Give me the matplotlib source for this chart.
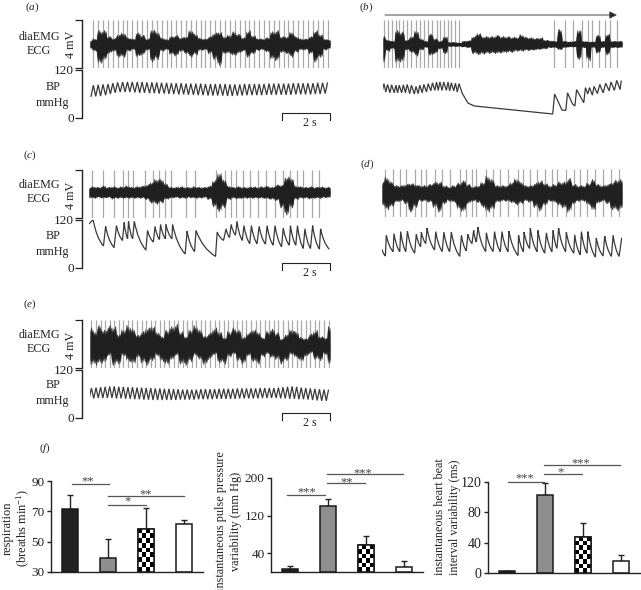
import numpy as np
import matplotlib
matplotlib.use("Agg")
import matplotlib.pyplot as plt
from matplotlib.path import Path
from matplotlib.patches import PathPatch

plt.rcParams['font.family'] = ['Liberation Serif', 'DejaVu Serif']
plt.rcParams['mathtext.fontset'] = 'custom'
plt.rcParams['mathtext.rm'] = 'Liberation Serif'
plt.rcParams['mathtext.it'] = 'Liberation Serif:italic'
plt.rcParams['mathtext.default'] = 'regular'

# ---------- trace data ----------
# EMG envelopes in mV (samples across the 10 s record)
a_top = [.35,.5,1.2,1.2,.7,.55,.9,1.0,.6,.5,1.0,.8,.5,1.3,1.1,.6,.45,.7,.8,.6,.7,1.25,.9,.55,.5,.7,1.0,1.1,.7,.8,1.1,.9,.6,1.2,.8,.55,.5,.6,1.1,1.2,.7,.7,1.1,.7,.5,.5,.7,1.2,.9,.5,.4]
a_bot = [.35,.6,1.7,1.4,.8,.6,1.1,1.1,.6,.5,1.1,.9,.5,1.5,1.3,.6,.5,.9,1.0,.6,.8,1.1,.9,.55,.5,.8,1.3,1.8,.8,.8,1.0,.8,.6,1.1,.8,.55,.5,.7,1.3,1.4,.7,.8,1.1,.7,.5,.5,.8,1.5,1.1,.5,.4]
b_top = [.8,.4,.3,1.2,1.1,.4,.7,1.2,.5,.3,.9,.5,.3,.7,.2,.2,.15,.3,.35,.7,1.0,.7,.7,.7,.8,.7,.7,.65,.65,.85,.65,.6,.55,.6,.4,.35,.3,1.3,.3,.25,.3,1.3,.3,.25,.25,.8,.3,.9,.3,.3,.3]
b_bot = [1.5,.6,.4,1.6,1.5,.5,.7,1.0,.5,.3,1.0,.8,.4,.8,.2,.2,.2,.25,.3,.8,.9,.85,.8,.8,.8,.75,.7,.7,.6,.6,.55,.55,.5,.45,.4,.3,.3,.5,.3,.25,.25,1.3,.3,1.4,.3,.8,.3,.9,.3,.3,.3]
c_top = [.5,.55,.5,.6,.5,.55,.5,.55,.6,.5,.55,.6,.7,.95,1.2,1.2,.8,.5,.5,.55,.5,.5,.55,.5,.5,.6,1.1,1.75,1.2,.6,.5,.55,.5,.5,.55,.5,.55,.6,.5,.7,.7,1.4,1.3,.6,.55,.5,.55,.5,.55,.5,.5]
c_bot = [.45,.5,.45,.5,.45,.55,.5,.5,.5,.5,.5,.5,.6,.9,1.0,.9,.6,.5,.45,.5,.5,.45,.5,.5,.45,.6,1.2,1.6,1.3,.6,.5,.55,.5,.5,.5,.5,.5,.55,.6,.7,1.3,1.9,1.3,.6,.5,.5,.55,.5,.5,.45,.45]
d_top = [1.1,1.4,1.0,.7,.7,.8,.9,.8,.7,.7,.8,1.0,1.0,.7,.6,.7,.9,1.1,.8,.6,.7,1.0,1.5,1.2,.7,.7,.7,1.0,1.3,1.0,.7,.7,.9,1.1,.9,.7,.8,1.0,1.0,1.3,.8,.7,.7,.9,1.2,.8,.7,.8,1.0,1.2,1.2]
d_bot = [1.0,1.4,1.2,.8,.7,.9,1.6,1.2,.7,.7,.8,1.2,1.6,.9,.7,.8,1.4,1.6,.9,.7,.8,1.2,1.6,1.4,.8,.7,.7,.8,1.0,.9,.7,.8,1.2,1.5,1.0,.7,.8,1.1,1.3,1.6,.9,.7,.7,1.0,1.5,.9,.7,.9,1.4,1.5,1.4]
e_top = [1.7,1.2,1.7,1.3,1.7,1.6,1.0,1.4,1.7,1.4,.9,1.2,1.5,1.7,1.2,.8,1.3,1.6,1.8,1.2,.8,1.4,1.7,1.3,.8,1.1,1.5,1.2,.7,1.2,1.5,1.3,.7,1.1,1.4,1.2,.7,1.2,1.4,1.1,.6,1.0,1.4,1.2,.7,.6,1.0,1.3,.8,.7,1.6]
e_bot = [1.6,1.7,1.6,1.5,.9,1.7,1.6,.9,1.4,1.6,1.1,1.5,1.7,1.3,.9,1.4,1.7,1.3,.9,1.6,1.7,1.4,.9,1.3,1.7,1.2,.8,1.5,1.6,1.0,.8,1.4,1.6,.9,1.4,1.6,1.0,.8,1.1,1.2,1.6,1.3,.8,1.1,1.4,1.0,.7,1.2,1.3,.8,1.7]
# line-texture proportions of the EMG edge
teeth = [1.0, .80, .95, .72, .90, .82, .98]

# ECG spike times (s)
a_beats = [0.14,0.34,0.54,0.75,0.95,1.15,1.36,1.56,1.76,1.97,2.17,2.37,2.58,2.78,2.98,3.19,3.39,3.59,3.80,4.00,4.20,4.41,4.61,4.81,5.02,5.22,5.42,5.63,5.83,6.03,6.24,6.44,6.64,6.85,7.05,7.25,7.46,7.66,7.86,8.07,8.27,8.47,8.68,8.88,9.08,9.29,9.49,9.69,9.90]
b_beats = [.04,.19,.36,.54,.68,.85,1.01,1.19,1.38,1.54,1.71,1.89,2.07,2.24,2.38,2.54,2.72,2.86,3.03,3.18,7.14,7.63,7.97,8.32,8.56,8.76,9.04,9.28,9.49,9.81]
c_beats = [.11,.60,1.04,1.42,1.60,1.81,2.32,2.67,2.92,3.15,3.40,4.03,4.38,5.25,5.63,5.88,6.11,6.39,6.69,7.01,7.36,7.71,8.06,8.33,8.64,8.89,9.24,9.56]
d_beats = [.14,.46,.74,.99,1.36,1.61,1.82,2.19,2.51,2.82,3.24,3.51,3.75,3.93,4.32,4.63,4.93,5.25,5.67,5.89,6.15,6.46,6.78,7.08,7.29,7.65,7.99,8.26,8.54,8.89,9.21,9.56,9.88]
e_beats = [0.06,0.25,0.44,0.63,0.82,1.01,1.20,1.39,1.58,1.77,1.96,2.15,2.34,2.53,2.72,2.91,3.10,3.29,3.48,3.67,3.86,4.05,4.24,4.43,4.62,4.81,5.00,5.19,5.38,5.57,5.76,5.95,6.14,6.33,6.52,6.71,6.90,7.09,7.28,7.47,7.66,7.85,8.04,8.23,8.42,8.61,8.80,8.99,9.18,9.37,9.56,9.75,9.94]

# Blood pressure: beat peaks and troughs (mmHg)
a_sys = [82,83,84,85,87,89,90,90,90,90,90,89,89,89,88,88,87,87,87,86,86,86,86,85,85,85,85,85,84,84,84,85,85,85,85,85,86,86,86,86,86,87,87,87,87,87,88,88,89]
a_dia = [53,54,55,57,60,63,65,65,65,64,63,63,62,62,61,61,60,60,59,59,58,58,57,57,56,56,56,56,55,55,56,56,57,57,57,57,58,58,58,58,58,58,59,59,59,59,60,60,61]
e_sys = [75,76,77,78,79,79,78,78,77,77,76,76,75,75,74,74,73,73,72,72,71,71,71,71,72,72,72,72,73,73,73,73,74,74,74,74,74,75,75,75,75,76,77,78,79,78,76,75,74,73,72,71,71]
e_dia = [49,49,50,50,50,50,49,49,48,48,47,47,46,46,45,45,45,45,45,45,46,46,46,46,47,47,47,47,48,48,48,48,48,49,49,49,49,49,50,50,50,50,49,49,48,48,47,47,46,45,44,43,43]
# panel b, first stretch, one value per beat
b_sys = [86,84,83,82,82,83,84,82,79,82,84,86,88,90,90,90,90,88,87,86]
b_dia = [68,65,63,63,63,63,63,61,60,61,63,65,68,69,69,69,69,68,68,65]
# panel b, fall and recovery
b_t2 = [3.32,3.56,3.83,7.10,7.18,7.49,7.65,7.72,7.93,8.03,8.10,8.40,8.47,8.57,8.64,8.76,8.83,8.97,9.07,9.21,9.32,9.46,9.54,9.68,9.78,9.92,9.97]
b_p2 = [61,37,30,10,60,20,19,63,35,30,71,38,76,60,76,57,79,61,84,63,87,68,90,69,94,71,94]
# panel c
c_sys_t = [.17,.69,1.14,1.46,1.64,1.88,2.43,2.74,2.97,3.19,3.47,4.07,4.44,5.32,5.69,5.90,6.14,6.43,6.74,7.06,7.39,7.72,8.06,8.36,8.65,8.96,9.28,9.61]
c_sys = [121,104,106,114,117,117,94,104,109,110,109,92,94,90,98,109,117,106,106,104,106,106,100,106,106,98,106,98]
c_dia_t = [0,.60,1.04,1.39,1.60,1.81,2.36,2.67,2.92,3.17,3.44,3.99,4.38,5.25,5.58,5.83,6.08,6.36,6.67,6.97,7.32,7.64,7.99,8.31,8.58,8.89,9.19,9.56,9.97]
c_dia = [110,55,51,69,73,73,45,65,71,73,73,35,41,29,69,76,82,69,61,61,60,57,53,57,57,49,49,47,47]
# panel d
d_sys_t = [0,.18,.50,.78,1.06,1.43,1.64,1.88,2.24,2.58,2.89,3.31,3.58,3.82,4.00,4.35,4.69,5.00,5.29,5.69,5.92,6.18,6.50,6.85,7.13,7.36,7.68,8.03,8.31,8.58,8.93,9.28,9.63,9.99]
d_sys = [47,82,86,91,92,84,90,100,91,90,90,82,84,94,102,88,91,91,92,82,90,100,94,88,94,100,90,83,91,91,75,80,82,76]
d_dia = [30,41,41,41,37,53,61,45,41,41,29,43,61,65,41,41,41,41,31,41,49,41,37,41,49,41,37,33,37,27,30,29,29]

# ---------- bar data ----------
resp_values = [71.5, 39, 58.5, 61.5]
resp_err = [9.5, 13, 13.5, 2.5]
resp_ticks = [30, 50, 70, 90]
pulse_values = [6, 141, 57, 11]
pulse_err = [6, 15, 20, 13]
pulse_ticks = [40, 120, 200]
beat_values = [2, 103, 47.5, 16]
beat_err = [1, 16, 18.5, 8]
beat_ticks = [0, 40, 80, 120]

W, H = 641, 590
fig = plt.figure(figsize=(W / 100, H / 100), dpi=100, facecolor='white')
TXT = '#222222'


def ax_px(x0, ytop, w, h):
    return fig.add_axes([x0 / W, 1 - (ytop + h) / H, w / W, h / H], facecolor='none')


ov = fig.add_axes([0, 0, 1, 1], facecolor='none', zorder=20)
ov.set_xlim(0, W)
ov.set_ylim(H, 0)
ov.set_axis_off()


def lab(x, y, s, size=8.7, **kw):
    kw.setdefault('ha', 'center')
    kw.setdefault('va', 'center')
    ov.text(x, y, s, fontsize=size, color=TXT, **kw)


def pressure(ax, t, v, curved, lw=0.9):
    verts = [(t[0], v[0])]
    codes = [Path.MOVETO]
    for i in range(1, len(t)):
        if curved and v[i] < v[i - 1]:
            dt, dv = t[i] - t[i - 1], v[i - 1] - v[i]
            verts += [(t[i - 1] + 0.33 * dt, v[i] + 0.3 * dv), (t[i], v[i])]
            codes += [Path.CURVE3, Path.CURVE3]
        else:
            verts.append((t[i], v[i]))
            codes.append(Path.LINETO)
    ax.add_patch(PathPatch(Path(verts, codes), fill=False, ec='#3a3a3a', lw=lw, joinstyle='miter'))


def merge(first, second):
    out = []
    for i in range(max(len(first), len(second))):
        if i < len(first):
            out.append(first[i])
        if i < len(second):
            out.append(second[i])
    return out


def toothed(values, offset):
    """Each envelope sample is drawn as a short run of thin teeth."""
    n = len(values)
    sub = 6
    xs, ys = [], []
    step = 10 / (n - 1)
    for i, v in enumerate(values):
        for k in range(sub):
            xs.append(min(i * step + (k - sub / 2) * step / sub, 10))
            ys.append(v * teeth[(i * sub + k + offset) % len(teeth)])
    return np.clip(xs, 0, 10), np.array(ys)


def panel(x0, y_emg, y_bp, width, top, bot, beats, base=0.0, axis=False):
    ea = ax_px(x0, y_emg, width, 48)
    ba = ax_px(x0, y_bp, width, 48)
    ea.set_xlim(0, 10)
    ea.set_ylim(-2, 2)
    ba.set_xlim(0, 10)
    ba.set_ylim(0, 120)
    ea.vlines(beats, -2, 2, color='#a8a8a8', lw=0.9, zorder=1)
    xt, yt = toothed(top, 0)
    xb, yb = toothed(bot, 3)
    ea.fill_between(xt, base, base + yt, color='#444444', lw=0, zorder=2)
    ea.fill_between(xb, base, base - yb, color='#444444', lw=0, zorder=2)
    ea.fill_between(xt, base - 0.05, base + yt * 0.82, color='#202020', lw=0, zorder=3)
    ea.fill_between(xb, base + 0.05, base - yb * 0.82, color='#202020', lw=0, zorder=3)
    for ax in (ea, ba):
        for s in ('top', 'right', 'bottom', 'left'):
            ax.spines[s].set_visible(False)
        ax.set_xticks([])
        ax.set_yticks([])
    if axis:
        off = (x0 - 82) * 0.72
        for ax, tk, labs in ((ea, [-2, 2], ['', '']), (ba, [0, 120], ['0', '120'])):
            ax.spines['left'].set_visible(True)
            ax.spines['left'].set_position(('outward', off))
            ax.spines['left'].set_linewidth(1.0)
            ax.spines['left'].set_color('#222222')
            ax.set_yticks(tk)
            ax.set_yticklabels(labs, fontsize=9.5, color=TXT)
            ax.tick_params(axis='y', length=5, width=0.9, pad=1, color='#222222')
    return ea, ba


def scalebar(y):
    ov.plot([281.5, 281.5, 329.5, 329.5], [y + 7, y, y, y + 7], color='#222222', lw=0.8, clip_on=False)
    lab(310, y + 10.5, '2 s')


# panel a
_, ba = panel(90, 20, 70, 240, a_top, a_bot, a_beats, axis=True)
pressure(ba, merge([b - 0.1 for b in a_beats], a_beats), merge(a_dia, a_sys), False)
scalebar(113)
lab(32.5, 7.5, '($\\mathit{a}$)', size=8)
lab(39, 37, 'diaEMG'); lab(39, 50.5, 'ECG'); lab(52.7, 87, 'BP'); lab(52.7, 102.7, 'mmHg')
lab(71.5, 44, '4 mV', rotation=90)

# panel b
_, ba = panel(383, 20, 70, 239, b_top, b_bot, b_beats)
n1 = len(b_sys)
pressure(ba, merge([b - 0.07 for b in b_beats[:n1]], b_beats[:n1]) + b_t2, merge(b_dia, b_sys) + b_p2, False)
ov.annotate('', xy=(617, 15), xytext=(385, 15),
            arrowprops=dict(arrowstyle='-|>', color='#444444', fc='#222222', lw=0.7, mutation_scale=11, shrinkA=0, shrinkB=0))
lab(366, 7, '($\\mathit{b}$)', size=8)

# panel c
_, ba = panel(89, 170, 220, 241, c_top, c_bot, c_beats, base=0.14, axis=True)
pressure(ba, merge(c_dia_t, c_sys_t), merge(c_dia, c_sys), True)
scalebar(263)
lab(30, 155, '($\\mathit{c}$)', size=8)
lab(39, 185, 'diaEMG'); lab(39, 199, 'ECG'); lab(52.7, 236, 'BP'); lab(52.7, 252, 'mmHg')
lab(71.5, 195, '4 mV', rotation=90)

# panel d
_, ba = panel(382, 169, 220, 240, d_top, d_bot, d_beats)
pressure(ba, merge(d_sys_t, d_beats), merge(d_sys, d_dia), True)
lab(367, 164, '($\\mathit{d}$)', size=8)

# panel e
_, ba = panel(90, 319.5, 370, 240, e_top, e_bot, e_beats, base=-0.12, axis=True)
pressure(ba, merge([b - 0.095 for b in e_beats], e_beats), merge(e_dia, e_sys), False)
scalebar(413)
lab(30, 304, '($\\mathit{e}$)', size=8)
lab(39, 335, 'diaEMG'); lab(39, 349, 'ECG'); lab(52.7, 385, 'BP'); lab(52.7, 401, 'mmHg')
lab(71, 345, '4 mV', rotation=90)


# bars
def bars(rect, ylim, values, err, ticks, rows, fs):
    ax = ax_px(*rect)
    b0 = ylim[0]
    pos = np.arange(len(values))
    heights = np.array(values) - b0
    fc = ['#222222', '#8e8e8e', 'white', 'white']
    rects = ax.bar(pos, heights, 0.42, bottom=b0, color=fc, edgecolor='#1a1a1a', lw=1.1, zorder=2)
    ax.errorbar(pos, values, yerr=[np.zeros(len(err)), err], fmt='none', ecolor='#222222',
                elinewidth=1.0, capsize=2, capthick=1.0, zorder=1, clip_on=False)
    r = rects[2]
    checker = np.indices((rows, 4)).sum(axis=0) % 2
    im = ax.imshow(checker[::-1], cmap='gray', vmin=0, vmax=1, aspect='auto', interpolation='nearest',
                   extent=[r.get_x(), r.get_x() + r.get_width(), b0, b0 + r.get_height()], zorder=2.5)
    im.set_clip_path(r)
    ax.add_patch(plt.Rectangle((r.get_x(), b0), r.get_width(), r.get_height(), fill=False,
                               ec='#1a1a1a', lw=1.1, zorder=3))
    ax.set_xlim(-0.5, 3.5)
    ax.set_ylim(*ylim)
    ax.set_xticks([])
    ax.set_yticks(ticks)
    ax.set_yticklabels([str(t) for t in ticks], fontsize=fs, color=TXT)
    ax.tick_params(axis='y', length=3, width=1.0, pad=1.5, color='#222222')
    for s in ('top', 'right'):
        ax.spines[s].set_visible(False)
    for s in ('left', 'bottom'):
        ax.spines[s].set_linewidth(1.0)
        ax.spines[s].set_color('#222222')
    return ax


bars((51, 481, 152, 91), (30, 90), resp_values, resp_err, resp_ticks, 9, 9.5)
bars((271, 478, 152, 94), (0, 200), pulse_values, pulse_err, pulse_ticks, 6, 9.5)
bars((488, 482, 152, 91), (0, 120), beat_values, beat_err, beat_ticks, 8, 10)


def sig(x0, x1, y, xs, ys, stars):
    ov.plot([x0, x1], [y, y], color='#555555', lw=0.9)
    ov.text(xs, ys, stars, fontsize=9, color='#444444', ha='center', va='center')


sig(72, 109, 484, 88, 481, '**')
sig(108, 184, 496, 146, 494, '**')
sig(108, 146, 505, 128, 501, '*')
sig(287, 325, 495, 307, 492, '***')
sig(327, 365, 483, 347, 482, '**')
sig(327, 403, 474, 363, 473, '***')
sig(508, 544, 482, 525, 478, '***')
sig(544, 582, 474, 561, 472, '*')
sig(544, 620, 465, 581, 463, '***')

lab(45, 448, '($\\mathit{f}$)', size=8)
lab(17, 528, 'respiration\n(breaths min$^{\u22121}$)', size=9, rotation=90, linespacing=1.1)
lab(228.5, 521, 'instantaneous pulse pressure\nvariability (mm Hg)', size=8.8, rotation=90, linespacing=1.25)
lab(447.5, 517, 'instantaneous heart beat\ninterval variability (ms)', size=8.7, rotation=90, linespacing=1.25)

fig.savefig('out.png', dpi=100, facecolor='white')
